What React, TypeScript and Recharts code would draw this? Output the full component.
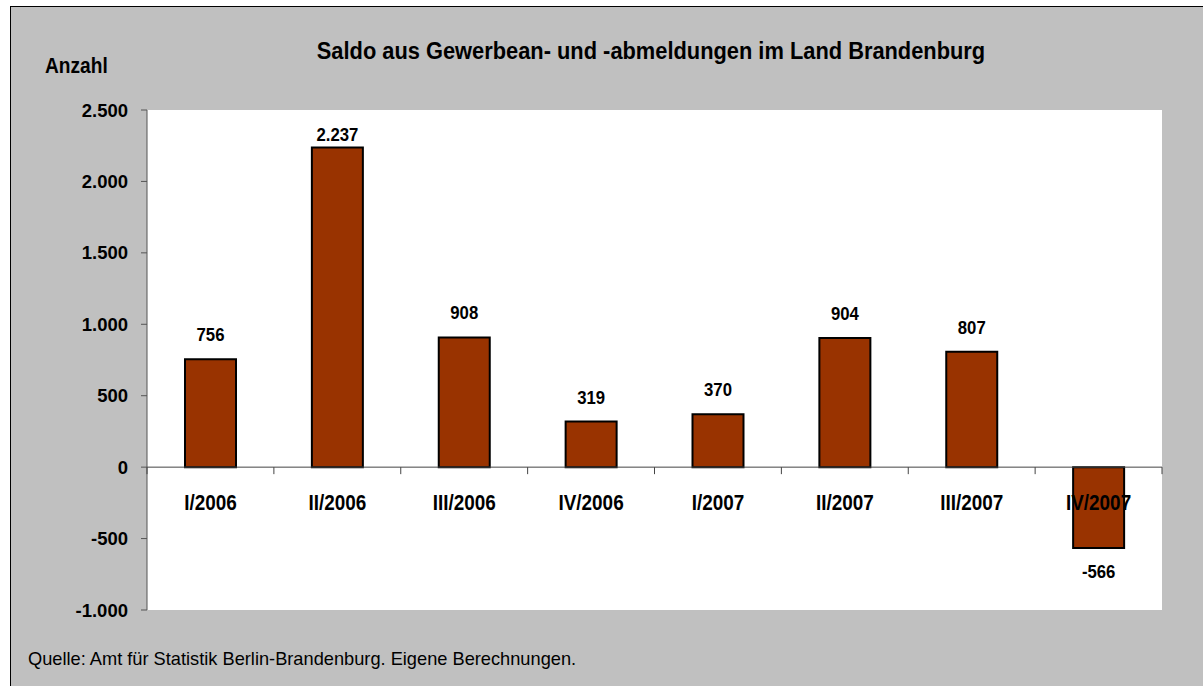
import React from "react";
import { BarChart, Bar, XAxis, YAxis, CartesianGrid, ReferenceLine, LabelList } from "recharts";

const categories = ["I/2006", "II/2006", "III/2006", "IV/2006", "I/2007", "II/2007", "III/2007", "IV/2007"];
const saldo = [756, 2237, 908, 319, 370, 904, 807, -566];
const yTicks = [-1000, -500, 0, 500, 1000, 1500, 2000, 2500];

const data = categories.map((c, i) => ({ name: c, value: saldo[i] }));

const W = 1203;
const H = 686;
const PLOT_TOP = 110;
const PLOT_BOTTOM = 610;
const PLOT_LEFT = 147;
const PLOT_RIGHT = 1162;
const Y_MIN = -1000;
const Y_MAX = 2500;
const FONT = "'Liberation Sans', Arial, sans-serif";

const fmt = (v: number) => {
  const s = Math.abs(v).toString().replace(/\B(?=(\d{3})+(?!\d))/g, ".");
  return (v < 0 ? "-" : "") + s;
};

const zeroY = PLOT_TOP + ((Y_MAX - 0) / (Y_MAX - Y_MIN)) * (PLOT_BOTTOM - PLOT_TOP);
const band = (PLOT_RIGHT - PLOT_LEFT) / categories.length;

const ST = ({ x, y, s, size, bold, anchor, children }: any) => (
  <text
    transform={`translate(${x},${y}) scale(${s},1)`}
    textAnchor={anchor || "start"}
    fontFamily={FONT}
    fontWeight={bold ? "bold" : "normal"}
    fontSize={size}
    fill="#000"
  >
    {children}
  </text>
);

const CatTick = (props: any) => {
  const { x, payload, index } = props;
  const left = x - band / 2;
  const right = x + band / 2;
  return (
    <g>
      <line x1={left} x2={left} y1={zeroY} y2={zeroY + 7} stroke="#444" strokeWidth={1} />
      {index === categories.length - 1 && (
        <line x1={right} x2={right} y1={zeroY} y2={zeroY + 7} stroke="#444" strokeWidth={1} />
      )}
      <ST x={x} y={zeroY + 43} s={0.86} size={22} bold anchor="middle">
        {payload.value}
      </ST>
    </g>
  );
};

const YTick = (props: any) => {
  const { y, payload } = props;
  return (
    <ST x={128} y={y + 6.5} s={1} size={18.5} bold anchor="end">
      {fmt(payload.value)}
    </ST>
  );
};

const ValueLabel = (props: any) => {
  const { x, y, width, height, value } = props;
  const cx = x + width / 2;
  const top = Math.min(y, y + height);
  const bottom = Math.max(y, y + height);
  const ty = value >= 0 ? Math.max(top - 18, PLOT_TOP + 31) : bottom + 30;
  return (
    <ST x={cx} y={ty} s={0.93} size={18} bold anchor="middle">
      {fmt(value)}
    </ST>
  );
};

export default function App() {
  return (
    <div style={{ position: "absolute", left: 0, top: 0, width: W, height: H, background: "#fff", overflow: "hidden" }}>
      <div
        style={{
          position: "absolute",
          left: 10,
          top: 6,
          width: 1210,
          height: 700,
          background: "#C0C0C0",
          border: "1px solid #000",
        }}
      />
      <div style={{ position: "absolute", left: 0, top: 0 }}>
        <BarChart
          width={W}
          height={H}
          data={data}
          margin={{ top: PLOT_TOP, right: W - PLOT_RIGHT, bottom: H - PLOT_BOTTOM - 1, left: PLOT_LEFT - 60 }}
          barSize={51}
        >
          <CartesianGrid fill="#fff" horizontal={false} vertical={false} />
          <XAxis dataKey="name" axisLine={false} tickLine={false} height={1} tick={<CatTick />} interval={0} />
          <YAxis
            width={60}
            domain={[Y_MIN, Y_MAX]}
            ticks={yTicks}
            interval={0}
            axisLine={{ stroke: "#555", strokeWidth: 1 }}
            tickLine={{ stroke: "#555" }}
            tickSize={6}
            tick={<YTick />}
          />
          <ReferenceLine y={0} stroke="#444" strokeWidth={1} />
          <Bar dataKey="value" fill="#993300" stroke="#000" strokeWidth={2} isAnimationActive={false}>
            <LabelList dataKey="value" content={<ValueLabel />} />
          </Bar>
        </BarChart>
      </div>
      <svg width={W} height={H} style={{ position: "absolute", left: 0, top: 0, pointerEvents: "none" }}>
        <ST x={651} y={59} s={0.91} size={24} bold anchor="middle">
          Saldo aus Gewerbean- und -abmeldungen im Land Brandenburg
        </ST>
        <ST x={45} y={72.5} s={0.87} size={22} bold>
          Anzahl
        </ST>
        <ST x={28} y={664.5} s={0.96} size={19}>
          Quelle: Amt für Statistik Berlin-Brandenburg. Eigene Berechnungen.
        </ST>
      </svg>
    </div>
  );
}
